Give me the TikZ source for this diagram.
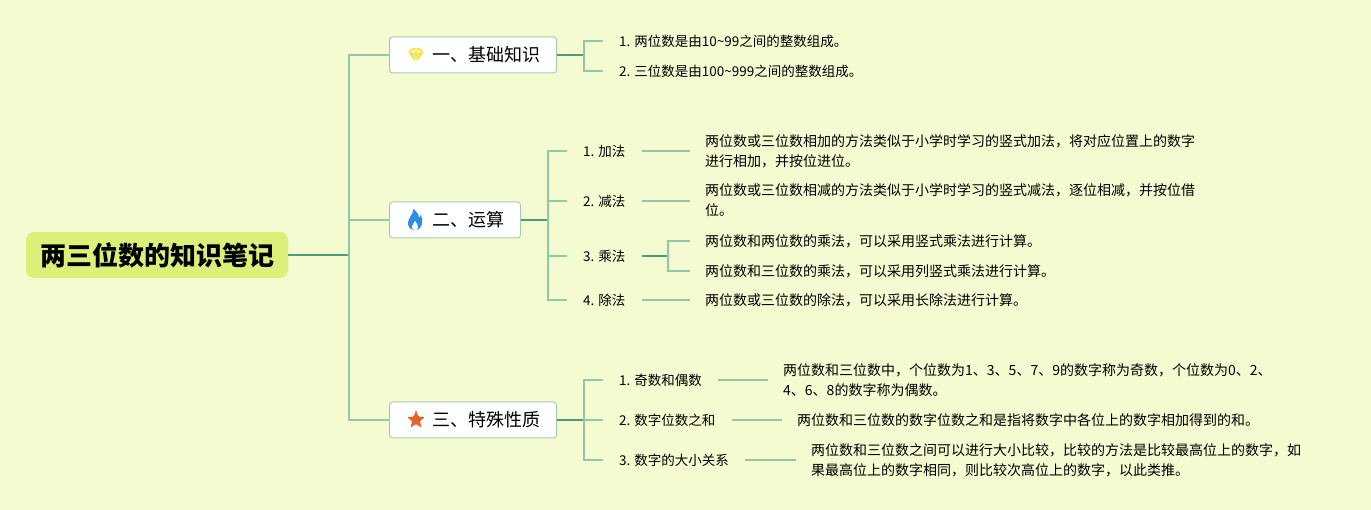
\documentclass[tikz,border=0pt]{standalone}
\usepackage{fontspec}
\setmainfont{Noto Sans CJK SC}
\usepackage{tikz}
\usetikzlibrary{calc,positioning}
\definecolor{bgcol}{HTML}{F4FBD0}
\definecolor{rootcol}{HTML}{DCEF78}
\definecolor{darkline}{HTML}{4C9C79}
\definecolor{lightline}{HTML}{92C8A5}
\definecolor{boxline}{HTML}{A6CBB3}
\definecolor{gemcol}{HTML}{EEE23C}
\definecolor{firecol}{HTML}{2E8DE0}
\definecolor{starcol}{HTML}{E5622E}
\tikzset{
rootbox/.style={fill=rootcol, rounded corners=8pt, minimum width=262pt, minimum height=46pt, inner sep=0pt, font=\fontsize{26}{28}\selectfont\bfseries},
topicbox/.style={draw=boxline, line width=1pt, fill=white, rounded corners=3pt, minimum height=36pt, inner xsep=16pt, inner ysep=0pt, anchor=west, font=\fontsize{18}{20}\selectfont},
label/.style={anchor=west, inner sep=0pt, font=\fontsize{13.5}{20}\selectfont},
leaf/.style={anchor=west, inner sep=0pt, align=left, font=\fontsize{14}{20}\selectfont},
trunk/.style={draw=lightline, line width=1.6pt},
stem/.style={draw=darkline, line width=1.6pt},
}
\newcommand{\iconspace}{\hspace*{27pt}}

\begin{document}
\begin{tikzpicture}[x=1pt,y=1pt,yscale=-1,xscale=1]
\useasboundingbox[fill=bgcol] (0,0) rectangle (1371,510);
%Root
\node[rootbox] (root) at (157,255) {两三位数的知识笔记};
%Rounded Rect
\node[topicbox] (b1) at (389,55) {\iconspace 一、基础知识};
\node[topicbox] (b2) at (389,220) {\iconspace 二、运算};
\node[topicbox] (b3) at (389,420) {\iconspace 三、特殊性质};
%Icons
\begin{scope}[shift={([xshift=27pt]b1.west)}]
\fill[gemcol] (-8,-3) -- (-4.5,-7) -- (4.5,-7) -- (8,-3) -- (0,7.5) -- cycle;
\draw[white, line width=0.6pt, line join=round] (-8,-3) -- (8,-3) (-4.5,-7) -- (-2.5,-3) -- (0,7.5) -- (2.5,-3) -- (4.5,-7) (0,-7) -- (-2.5,-3) (0,-7) -- (2.5,-3);
\end{scope}
\begin{scope}[shift={([xshift=26pt]b2.west)}]
\fill[firecol] (0,10) .. controls (-5,10) and (-7,6.5) .. (-7,3) .. controls (-7,-2) and (-2,-5) .. (-1.5,-11) .. controls (2,-8) and (4,-5) .. (4,-2) .. controls (5,-3) and (5.5,-4) .. (5.5,-5) .. controls (7,-3) and (7.5,0) .. (7,3.5) .. controls (6.5,7) and (4,10) .. (0,10) -- cycle;
\fill[white] (0,10) .. controls (-2.5,10) and (-3.5,8) .. (-3,6) .. controls (-2.5,4) and (-0.5,3) .. (0,1) .. controls (1,3) and (3,4.5) .. (3,7) .. controls (3,9) and (1.5,10) .. (0,10) -- cycle;
\end{scope}
\begin{scope}[shift={([xshift=27pt]b3.west)}]
\fill[starcol, rounded corners=1.2pt] (-90:9.5) \foreach \a in {0,72,...,288} { -- ({-54+\a}:4) -- ({-18+\a}:9.5) } -- cycle;
\end{scope}
%Trunk
\coordinate (j0) at (349,255);
\draw[stem] (root.east) -- (j0);
\draw[trunk] (b1.west) -| (j0) |- (b3.west);
\draw[trunk] (j0) |- (b2.west);
%Basics
\node[label] (l11) at (619,41) {1. 两位数是由10\textasciitilde99之间的整数组成。};
\node[label] (l12) at (619,71) {2. 三位数是由100\textasciitilde999之间的整数组成。};
\coordinate (j1) at (584,55);
\draw[stem] (b1.east) -- (j1);
\draw[trunk] ([xshift=-16pt]l11.west) -| (j1) |- ([xshift=-16pt]l12.west);
%Operations
\node[label] (l21) at (583,151) {1. 加法};
\node[label] (l22) at (583,201) {2. 减法};
\node[label] (l23) at (583,256) {3. 乘法};
\node[label] (l24) at (583,300) {4. 除法};
\coordinate (j2) at (548,220);
\draw[stem] (b2.east) -- (j2);
\draw[trunk] ([xshift=-16pt]l21.west) -| (j2) |- ([xshift=-16pt]l24.west);
\draw[trunk] (j2) |- ([xshift=-16pt]l22.west);
\draw[trunk] (j2) |- ([xshift=-16pt]l23.west);
\node[leaf] (t21) at (705,151) {两位数或三位数相加的方法类似于小学时学习的竖式加法，将对应位置上的数字\\进行相加，并按位进位。};
\node[leaf] (t22) at (705,200) {两位数或三位数相减的方法类似于小学时学习的竖式减法，逐位相减，并按位借\\位。};
\node[leaf] (t231) at (705,241) {两位数和两位数的乘法，可以采用竖式乘法进行计算。};
\node[leaf] (t232) at (705,271) {两位数和三位数的乘法，可以采用列竖式乘法进行计算。};
\node[leaf] (t24) at (705,300) {两位数或三位数的除法，可以采用长除法进行计算。};
\draw[trunk] ([xshift=16pt]l21.east) -- ([xshift=-15pt]t21.west);
\draw[trunk] ([xshift=16pt]l22.east) -- ([xshift=-15pt]t22.west |- l22.west);
\coordinate (j23) at (668,256);
\draw[stem] ([xshift=16pt]l23.east) -- (j23);
\draw[trunk] ([xshift=-15pt]t231.west) -| (j23) |- ([xshift=-15pt]t232.west);
\draw[trunk] ([xshift=16pt]l24.east) -- ([xshift=-15pt]t24.west);
%Properties
\node[label] (l31) at (619,380) {1. 奇数和偶数};
\node[label] (l32) at (619,420) {2. 数字位数之和};
\node[label] (l33) at (619,460) {3. 数字的大小关系};
\coordinate (j3) at (584,420);
\draw[stem] (b3.east) -- (j3);
\draw[trunk] ([xshift=-16pt]l31.west) -| (j3) |- ([xshift=-16pt]l33.west);
\draw[trunk] (j3) -- ([xshift=-16pt]l32.west);
\node[leaf] (t31) at (783,380) {两位数和三位数中，个位数为1、3、5、7、9的数字称为奇数，个位数为0、2、\\4、6、8的数字称为偶数。};
\node[leaf] (t32) at (797,420) {两位数和三位数的数字位数之和是指将数字中各位上的数字相加得到的和。};
\node[leaf] (t33) at (811,460) {两位数和三位数之间可以进行大小比较，比较的方法是比较最高位上的数字，如\\果最高位上的数字相同，则比较次高位上的数字，以此类推。};
\draw[trunk] ([xshift=16pt]l31.east) -- ([xshift=-15pt]t31.west);
\draw[trunk] ([xshift=16pt]l32.east) -- ([xshift=-15pt]t32.west);
\draw[trunk] ([xshift=16pt]l33.east) -- ([xshift=-15pt]t33.west);
\end{tikzpicture}
\end{document}
